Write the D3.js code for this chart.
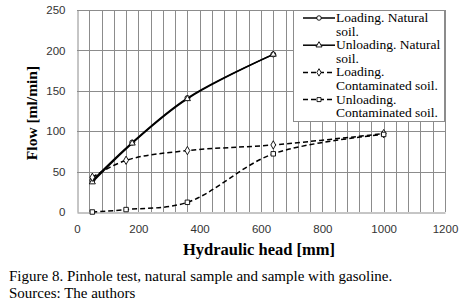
<!DOCTYPE html>
<html>
<head>
<meta charset="utf-8">
<script src="https://cdn.jsdelivr.net/npm/d3@7"></script>
<style>
  body { margin: 0; background: #fff; }
  svg { display: block; }
</style>
</head>
<body>
<div id="chart"></div>
<script>
// values
const loadNatX = [50, 180, 360, 640];
const loadNatY = [39, 86, 141, 195];
const unloadNatX = [50, 180, 360, 640];
const unloadNatY = [37, 85, 140, 195];
const loadContX = [50, 160, 360, 640, 1000];
const loadContY = [43, 64, 76, 83, 97];
const unloadContX = [50, 160, 360, 640, 1000];
const unloadContY = [0, 3, 12, 72, 96];
const xTicks = [0, 200, 400, 600, 800, 1000, 1200];
const yTicks = [0, 50, 100, 150, 200, 250];

const series = [
  {name: ["Loading. Natural", "soil."], xs: loadNatX, ys: loadNatY, dash: null, sym: "circle"},
  {name: ["Unloading. Natural", "soil."], xs: unloadNatX, ys: unloadNatY, dash: null, sym: "triangle"},
  {name: ["Loading.", "Contaminated soil."], xs: loadContX, ys: loadContY, dash: "5,3", sym: "diamond"},
  {name: ["Unloading.", "Contaminated soil."], xs: unloadContX, ys: unloadContY, dash: "5,3", sym: "square"}
];

const W = 467, H = 308;
const m = {left: 77, right: 445, top: 10, bottom: 212};
const serif = "Liberation Serif, Times New Roman, serif";

const svg = d3.select("#chart").append("svg")
  .attr("width", W).attr("height", H);

const x = d3.scaleLinear().domain([0, 1200]).range([m.left, m.right]);
const y = d3.scaleLinear().domain([0, 250]).range([m.bottom, m.top]);

// vertical gridlines every 40
svg.append("g")
  .selectAll("line")
  .data(d3.range(40, 1201, 40))
  .enter().append("line")
  .attr("x1", d => Math.round(x(d)) + 0.5)
  .attr("x2", d => Math.round(x(d)) + 0.5)
  .attr("y1", m.top).attr("y2", m.bottom)
  .attr("stroke", "#8c8c8c").attr("stroke-width", 1);

// horizontal gridlines
svg.append("g")
  .selectAll("line")
  .data(yTicks.slice(1))
  .enter().append("line")
  .attr("x1", m.left).attr("x2", m.right)
  .attr("y1", d => Math.round(y(d)) + 0.5)
  .attr("y2", d => Math.round(y(d)) + 0.5)
  .attr("stroke", "#8c8c8c").attr("stroke-width", 1);

// axes
const xAxis = svg.append("g")
  .attr("transform", `translate(0,${m.bottom + 0.5})`)
  .call(d3.axisBottom(x).tickValues(xTicks).tickFormat(d3.format("d")).tickSize(0).tickPadding(12));
const yAxis = svg.append("g")
  .attr("transform", `translate(${m.left + 0.5},0)`)
  .call(d3.axisLeft(y).tickValues(yTicks).tickFormat(d3.format("d")).tickSize(0).tickPadding(12));
[xAxis, yAxis].forEach(g => {
  g.select(".domain").attr("stroke", "#8c8c8c");
  g.selectAll("text")
   .attr("font-family", "Liberation Sans, Arial, sans-serif")
   .attr("font-size", 11.5)
   .attr("fill", "#333");
});

// lines
const line = d3.line()
  .x(d => x(d[0]))
  .y(d => y(d[1]))
  .curve(d3.curveCatmullRom.alpha(0.5));

const symbols = {
  circle: d3.symbolCircle,
  triangle: d3.symbolTriangle,
  diamond: d3.symbolDiamond,
  square: d3.symbolSquare
};

series.forEach(s => {
  const pts = s.xs.map((v, i) => [v, s.ys[i]]);
  svg.append("path")
    .datum(pts)
    .attr("d", line)
    .attr("fill", "none")
    .attr("stroke", "#000")
    .attr("stroke-width", 1.5)
    .attr("stroke-dasharray", s.dash);
  svg.append("g").selectAll("path")
    .data(pts)
    .enter().append("path")
    .attr("transform", d => `translate(${x(d[0])},${y(d[1])})`)
    .attr("d", d3.symbol().type(symbols[s.sym]).size(s.sym === "triangle" ? 16 : 20))
    .attr("fill", "#fff")
    .attr("stroke", "#000")
    .attr("stroke-width", 0.9);
});

// legend
const lg = svg.append("g");
lg.append("rect")
  .attr("x", 293.5).attr("y", 10.5)
  .attr("width", 151).attr("height", 111)
  .attr("fill", "#fff").attr("stroke", "#8c8c8c");

series.forEach((s, i) => {
  const base = 22 + i * 27.2;
  lg.append("line")
    .attr("x1", 303).attr("x2", 335)
    .attr("y1", base - 4).attr("y2", base - 4)
    .attr("stroke", "#000").attr("stroke-width", 1.5)
    .attr("stroke-dasharray", s.dash);
  lg.append("path")
    .attr("transform", `translate(319,${base - 4})`)
    .attr("d", d3.symbol().type(symbols[s.sym]).size(16))
    .attr("fill", "#fff").attr("stroke", "#000").attr("stroke-width", 0.9);
  const t = lg.append("text")
    .attr("x", 336).attr("y", base)
    .attr("font-family", serif)
    .attr("font-size", 13.5)
    .attr("fill", "#000");
  s.name.forEach((txt, j) => {
    t.append("tspan")
      .attr("x", 336)
      .attr("dy", j === 0 ? 0 : 13.6)
      .text(txt);
  });
});

// axis titles
svg.append("text")
  .attr("x", 259).attr("y", 255)
  .attr("text-anchor", "middle")
  .attr("font-family", serif)
  .attr("font-weight", "bold").attr("font-size", 16.5)
  .text("Hydraulic head [mm]");

svg.append("text")
  .attr("transform", `translate(37,113) rotate(-90)`)
  .attr("text-anchor", "middle")
  .attr("font-family", serif)
  .attr("font-weight", "bold").attr("font-size", 15.5)
  .text("Flow [ml/min]");

// caption
svg.append("text")
  .attr("x", 9).attr("y", 280.5)
  .attr("font-family", serif)
  .attr("font-size", 15)
  .text("Figure 8. Pinhole test, natural sample and sample with gasoline.");
svg.append("text")
  .attr("x", 9).attr("y", 298)
  .attr("font-family", serif)
  .attr("font-size", 15)
  .text("Sources: The authors");
</script>
</body>
</html>
